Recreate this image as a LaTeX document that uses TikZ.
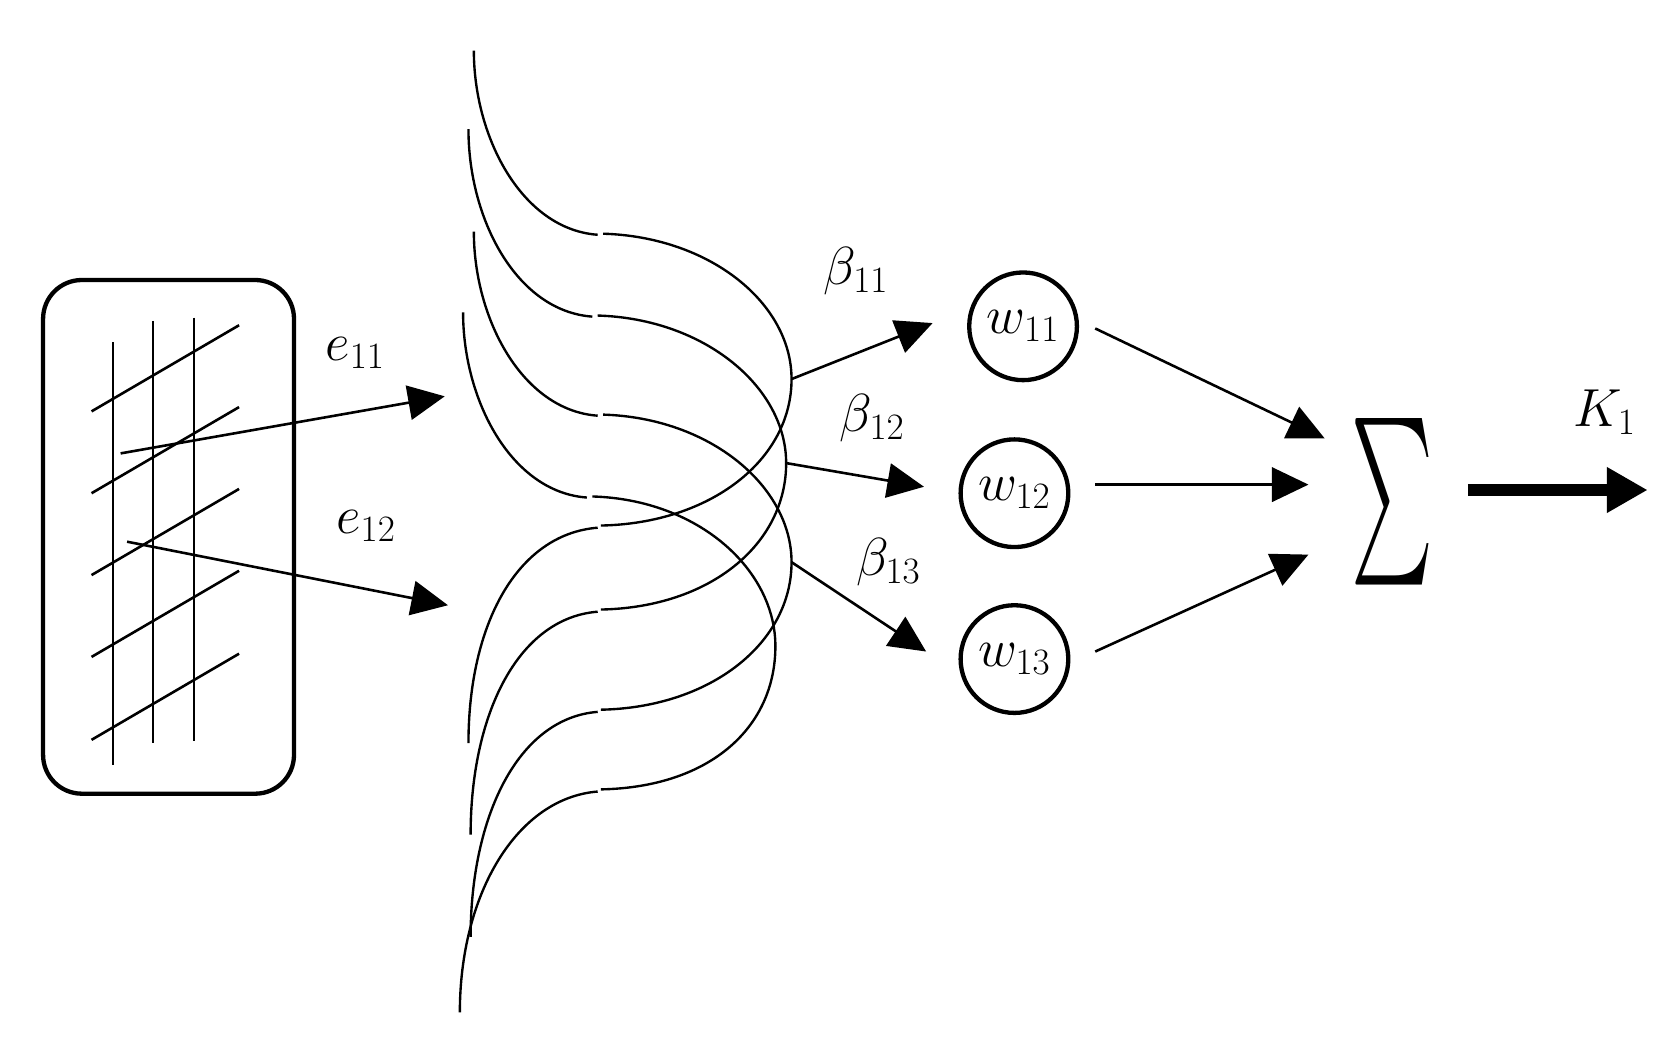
\documentclass[tikz,border=0pt]{standalone}
\usepackage{graphicx}
\usetikzlibrary{arrows.meta,calc}
\begin{document}
\begin{tikzpicture}[x=0.5pt,y=-0.5pt,
  thin line/.style={line width=1.2pt},
  curve/.style={line width=1.1pt},
  arr/.style={line width=1.2pt,-{Triangle[length=17pt,width=16pt]}},
  neuron/.style={circle,draw,line width=2pt,minimum size=50pt,inner sep=0pt},
  lab/.style={font=\fontsize{27}{30}\selectfont}]
\useasboundingbox (0,0) rectangle (1560,985);
% box
\draw[line width=2pt,rounded corners=18pt] (40,260) rectangle (273,737);
\foreach \x/\a/\b in {105/318/710,142/298/690,180/295/688}
  \draw[thin line] (\x,\a) -- (\x,\b);
\foreach \y in {0,76,152,228,305}
  \draw[thin line] (85,382+\y) -- (222,302+\y);
\coordinate (s1) at (112,421);
\coordinate (s2) at (118,503);
\coordinate (t1) at (413,368);
\coordinate (t2) at (416,562);
\draw[arr] (s1) -- (t1);
\draw[arr] (s2) -- (t2);
\node[lab] (e11) at (330,328) {$e_{11}$};
\node[lab] (e12) at (340,488) {$e_{12}$};
% curves
\coordinate (p1) at (735,352);
\coordinate (p2) at (730,430);
\coordinate (p3) at (735,522);
\coordinate (p4) at (720,600);
\foreach \tx/\ty/\my/\p in {440/47/218/p1,435/120/294/p2,440/215/386/p3,430/290/462/p4}{
  \draw[curve] (\tx,\ty) .. controls (\tx,\my-90) and (\tx+45,\my-5) .. (\tx+115,\my);
  \draw[curve] (\tx+120,\my-1) .. controls (\tx+220,\my+2) and ($(\p)+(0,-70)$) .. (\p);
}
\foreach \p/\my/\bx/\by in {p1/488/435/690,p2/566/437/775,p3/659/437/870,p4/733/427/940}{
  \draw[curve] (\p) .. controls ($(\p)+(0,75)$) and (660,\my-2) .. (558,\my);
  \draw[curve] (555,\my+2) .. controls (480,\my+8) and (\bx,\by-110) .. (\bx,\by);
}
% neurons
\node[neuron] (w1) at (950,303) {};
\node[neuron] (w2) at (942,458) {};
\node[neuron] (w3) at (942,612) {};
\node[lab] at (w1) {$w_{11}$};
\node[lab] at (w2) {$w_{12}$};
\node[lab] at (w3) {$w_{13}$};
\coordinate (b1) at (866,300);
\coordinate (b2) at (858,452);
\coordinate (b3) at (860,605);
\draw[arr] (p1) -- (b1);
\draw[arr] (p2) -- (b2);
\draw[arr] (p3) -- (b3);
\node[lab] (bl1) at (795,252) {$\beta_{11}$};
\node[lab] (bl2) at (810,388) {$\beta_{12}$};
\node[lab] (bl3) at (825,522) {$\beta_{13}$};
% sum
\node[inner sep=0pt] (sum) at (1293,466) {\resizebox{38pt}{58pt}{$\textstyle\sum$}};
\coordinate (q1) at (1230,407);
\coordinate (q2) at (1215,450);
\coordinate (q3) at (1215,515);
\draw[arr] (1017,305) -- (q1);
\draw[arr] (1017,450) -- (q2);
\draw[arr] (1017,605) -- (q3);
\coordinate (k0) at (1363,455);
\coordinate (k1) at (1530,455);
\draw[line width=5.5pt,-{Triangle[length=19pt,width=20pt]}] (k0) -- (k1);
\node[lab] (K) at (1490,383) {$K_1$};
\end{tikzpicture}
\end{document}
